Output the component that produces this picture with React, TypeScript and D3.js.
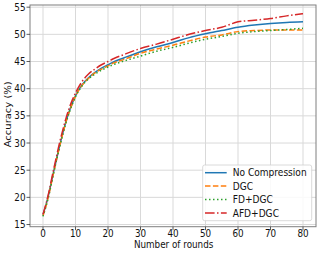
import * as d3 from 'd3'

const rounds = [0, 1, 2, 3, 4, 5, 6, 7, 8, 9, 10, 12, 14, 16, 18, 20, 22, 25, 30, 35, 40, 45, 50, 55, 60, 65, 70, 75, 80]

const noCompression = [16.8, 18.8, 21.2, 24.0, 26.6, 29.2, 31.6, 33.8, 35.7, 37.3, 38.7, 40.7, 42.0, 43.0, 43.8, 44.4, 45.0, 45.7, 46.8, 47.7, 48.5, 49.4, 50.1, 50.7, 51.3, 51.7, 52.0, 52.2, 52.3]
const dgc = [16.6, 18.6, 21.0, 23.8, 26.5, 29.1, 31.5, 33.7, 35.6, 37.2, 38.6, 40.6, 41.9, 42.9, 43.6, 44.2, 44.8, 45.4, 46.5, 47.3, 48.0, 48.8, 49.5, 49.9, 50.5, 50.7, 50.8, 50.8, 50.8]
const fdDgc = [16.5, 18.5, 20.9, 23.7, 26.4, 29.0, 31.4, 33.6, 35.5, 37.1, 38.5, 40.5, 41.8, 42.7, 43.4, 44.0, 44.5, 45.1, 46.0, 46.9, 47.6, 48.4, 49.1, 49.6, 50.2, 50.5, 50.7, 50.9, 51.1]
const afdDgc = [16.9, 19.0, 21.5, 24.4, 27.1, 29.8, 32.2, 34.4, 36.3, 37.9, 39.2, 41.3, 42.7, 43.6, 44.4, 45.0, 45.6, 46.3, 47.4, 48.2, 49.1, 50.0, 50.7, 51.3, 52.3, 52.6, 52.9, 53.4, 53.8]

const xTicks = [0, 10, 20, 30, 40, 50, 60, 70, 80]
const yTicks = [15, 20, 25, 30, 35, 40, 45, 50, 55]

const series = [
  { name: 'No Compression', values: noCompression, color: '#1f77b4', dash: '' },
  { name: 'DGC', values: dgc, color: '#ff7f0e', dash: '5.5,2.4' },
  { name: 'FD+DGC', values: fdDgc, color: '#2ca02c', dash: '1.5,2.5' },
  { name: 'AFD+DGC', values: afdDgc, color: '#d62728', dash: '9.6,2.4,1.5,2.4' },
]

const W = 320
const H = 254
const left = 30
const right = 316
const top = 5
const bottom = 226.7
const font = 'DejaVu Sans, sans-serif'
const squeeze = 0.88

// text squeezed horizontally, the figure was scaled down unevenly
function Label({ x, y, anchor = 'start', size = 10, children }: { x: number, y: number, anchor?: string, size?: number, children: any }) {
  return (
    <text transform={`translate(${x},${y}) scale(${squeeze},1)`} textAnchor={anchor}
      fontFamily={font} fontSize={size} fill="#111">{children}</text>
  )
}

export default function App() {
  const x = d3.scaleLinear().domain([-4, 84]).range([left, right])
  const y = d3.scaleLinear().domain([14.6, 55.4]).range([bottom, top])

  const line = d3.line<number>()
    .x((_, i) => x(rounds[i]))
    .y(d => y(d))
    .curve(d3.curveMonotoneX)

  const legX = 202.7
  const legY = 165

  return (
    <div style={{ position: 'absolute', left: 0, top: 0 }}>
      <svg width={W} height={H} style={{ display: 'block', background: '#fff' }}>
        <defs>
          <clipPath id="clip">
            <rect x={left} y={top} width={right - left} height={bottom - top} />
          </clipPath>
        </defs>
        <g>
          {xTicks.map(t => (
            <line key={'gx' + t} x1={x(t)} x2={x(t)} y1={top} y2={bottom} stroke="#d9d9d9" strokeWidth={1} />
          ))}
          {yTicks.map(t => (
            <line key={'gy' + t} x1={left} x2={right} y1={y(t)} y2={y(t)} stroke="#d9d9d9" strokeWidth={1} />
          ))}
        </g>
        <g clipPath="url(#clip)">
          {series.map(s => (
            <path key={s.name} d={line(s.values) || ''} fill="none" stroke={s.color}
              strokeWidth={1.5} strokeDasharray={s.dash} />
          ))}
        </g>
        <rect x={left} y={top} width={right - left} height={bottom - top} fill="none" stroke="#7f7f7f" strokeWidth={1} />
        {xTicks.map(t => (
          <g key={'tx' + t}>
            <line x1={x(t)} x2={x(t)} y1={bottom} y2={bottom + 3.5} stroke="#333" strokeWidth={0.8} />
            <Label x={x(t)} y={236.5} anchor="middle">{t}</Label>
          </g>
        ))}
        {yTicks.map(t => (
          <g key={'ty' + t}>
            <line x1={left - 3.5} x2={left} y1={y(t)} y2={y(t)} stroke="#333" strokeWidth={0.8} />
            <Label x={left - 4.5} y={y(t) + 3.6} anchor="end">{t}</Label>
          </g>
        ))}
        <Label x={173.6} y={248} anchor="middle">Number of rounds</Label>
        <text transform={`translate(11.3,114.3) rotate(-90) scale(1,${squeeze})`} textAnchor="middle"
          fontFamily={font} fontSize={10} fill="#111">Accuracy (%)</text>
        <g>
          <rect x={legX} y={legY} width={109} height={55.7} rx={2} fill="#fff" fillOpacity={0.85} stroke="#d0d0d0" strokeWidth={0.8} />
          {series.map((s, i) => (
            <g key={'leg' + s.name}>
              <line x1={205} x2={226.7} y1={legY + 7.7 + i * 13.4} y2={legY + 7.7 + i * 13.4}
                stroke={s.color} strokeWidth={1.5} strokeDasharray={s.dash} />
              <Label x={232.7} y={legY + 7.7 + i * 13.4 + 3.6} size={10.3}>{s.name}</Label>
            </g>
          ))}
        </g>
      </svg>
    </div>
  )
}
